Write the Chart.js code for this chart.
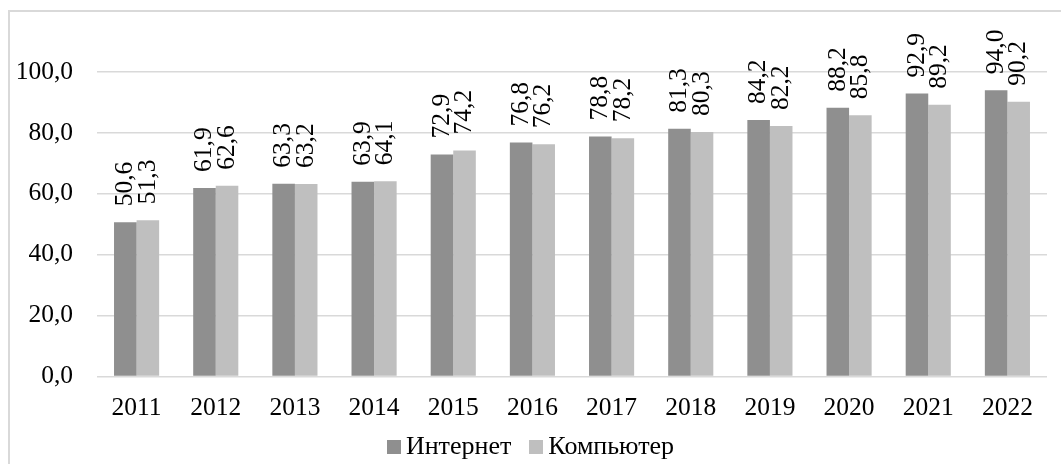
<!DOCTYPE html>
<html>
<head>
<meta charset="utf-8">
<script src="https://cdn.jsdelivr.net/npm/chart.js@4.4.1/dist/chart.umd.min.js"></script>
<style>
  html, body { margin: 0; padding: 0; background: #fff; }
  #wrap { position: relative; width: 1061px; height: 464px; overflow: hidden; }
  #frame { position: absolute; left: 8px; top: 10px; width: 1100px; height: 500px;
           border-left: 2px solid #d9d9d9; border-top: 2px solid #d9d9d9; }
  #chart { position: absolute; left: 0; top: 0; }
  #legend { position: absolute; left: 0; width: 1061px; top: 431px; height: 30px; line-height: 30px;
            text-align: center; white-space: nowrap;
            font: 26px "Liberation Serif", "Times New Roman", serif; color: #000; }
  #legend .item { display: inline; margin: 0 9px; }
  #legend .box { display: inline-block; width: 14px; height: 14px; margin-right: 5px; }
</style>
</head>
<body>
<div id="wrap">
  <div id="frame"></div>
  <canvas id="chart" width="1061" height="464"></canvas>
  <div id="legend"></div>
</div>
<script>
// ---- data ----
var years = ["2011","2012","2013","2014","2015","2016","2017","2018","2019","2020","2021","2022"];
var internet = [50.6, 61.9, 63.3, 63.9, 72.9, 76.8, 78.8, 81.3, 84.2, 88.2, 92.9, 94.0];
var computer = [51.3, 62.6, 63.2, 64.1, 74.2, 76.2, 78.2, 80.3, 82.2, 85.8, 89.2, 90.2];
var seriesNames = ["Интернет", "Компьютер"];
var seriesColors = ["#8f8f8f", "#bfbfbf"];

var serif = '"Liberation Serif", "Times New Roman", serif';

function fmt(v) {
    return v.toFixed(1).replace('.', ',');
}

/*------------------
    Value labels (rotated, above bars)
--------------------*/
var barLabels = {
    id: 'barLabels',
    afterDatasetsDraw: function (chart) {
        var ctx = chart.ctx;
        ctx.save();
        ctx.font = '25.5px ' + serif;
        ctx.fillStyle = '#000';
        ctx.textAlign = 'left';
        ctx.textBaseline = 'middle';
        chart.data.datasets.forEach(function (ds, i) {
            chart.getDatasetMeta(i).data.forEach(function (bar, j) {
                ctx.save();
                ctx.translate(bar.x, bar.y - 16);
                ctx.rotate(-Math.PI / 2);
                ctx.fillText(fmt(ds.data[j]), 0, 0);
                ctx.restore();
            });
        });
        ctx.restore();
    }
};

var chart = new Chart(document.getElementById('chart'), {
    type: 'bar',
    data: {
        labels: years,
        datasets: [
            { label: seriesNames[0], data: internet, backgroundColor: seriesColors[0] },
            { label: seriesNames[1], data: computer, backgroundColor: seriesColors[1] }
        ]
    },
    options: {
        responsive: false,
        animation: false,
        layout: { padding: { left: 10, right: 14, top: 11, bottom: 31 } },
        datasets: { bar: { categoryPercentage: 0.57, barPercentage: 1 } },
        plugins: {
            legend: { display: false },
            tooltip: { enabled: false }
        },
        scales: {
            x: {
                grid: { display: false },
                border: { display: false },
                ticks: { color: '#000', font: { family: serif, size: 25.5 }, padding: 9, maxRotation: 0 }
            },
            y: {
                min: 0,
                max: 120,
                border: { display: false },
                grid: {
                    drawTicks: false,
                    lineWidth: 1.5,
                    color: function (c) { return c.tick && c.tick.value > 100 ? 'rgba(0,0,0,0)' : '#d9d9d9'; }
                },
                ticks: {
                    stepSize: 20,
                    padding: 24,
                    color: '#000',
                    font: { family: serif, size: 25.5 },
                    callback: function (v) { return v > 100 ? '' : fmt(v); }
                },
                afterFit: function (scale) {
                    scale.width = 87;
                    scale.paddingTop = 0;
                    scale.paddingBottom = 0;
                }
            }
        }
    },
    plugins: [barLabels]
});

// html legend built from the datasets
var legend = document.getElementById('legend');
chart.data.datasets.forEach(function (ds) {
    var item = document.createElement('span');
    item.className = 'item';
    var box = document.createElement('span');
    box.className = 'box';
    box.style.background = ds.backgroundColor;
    item.appendChild(box);
    item.appendChild(document.createTextNode(ds.label));
    legend.appendChild(item);
});
</script>
</body>
</html>
